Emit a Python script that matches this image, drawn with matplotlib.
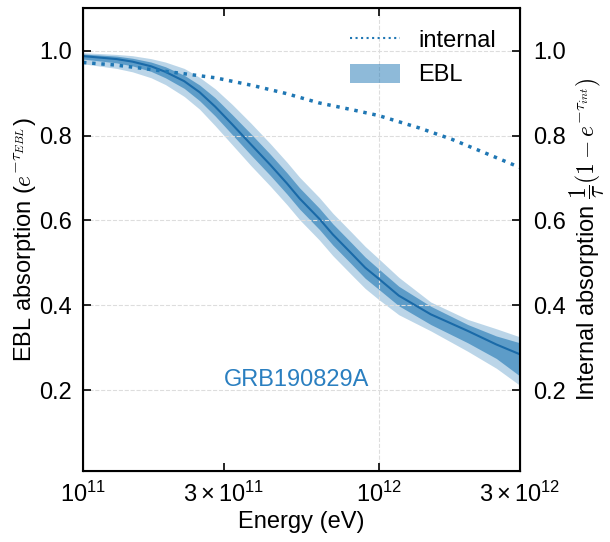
import matplotlib
matplotlib.use('Agg')
import matplotlib.pyplot as plt
from matplotlib.lines import Line2D
from matplotlib.patches import Patch

plt.rcParams['font.family'] = ['Liberation Sans', 'DejaVu Sans']
plt.rcParams['mathtext.fontset'] = 'cm'

# EBL absorption: median and 1/2 sigma bands
energy = [1.0e11, 1.3e11, 1.47e11, 1.7e11, 1.9e11, 2.2e11, 2.48e11, 2.8e11, 3.2e11,
          3.7e11, 4.3e11, 4.9e11, 5.4e11, 6.3e11, 7.0e11, 8.1e11, 9.0e11, 1.0e12,
          1.17e12, 1.5e12, 2.0e12, 2.5e12, 3.0e12]
ebl_med = [0.987, 0.980, 0.974, 0.963, 0.950, 0.928, 0.902, 0.868, 0.826, 0.779, 0.731, 0.687,
           0.652, 0.604, 0.567, 0.522, 0.489, 0.463, 0.423, 0.379, 0.340, 0.308, 0.285]
ebl_lo1 = [0.980, 0.971, 0.964, 0.951, 0.936, 0.911, 0.882, 0.846, 0.802, 0.754, 0.706, 0.662,
           0.627, 0.579, 0.542, 0.497, 0.464, 0.438, 0.399, 0.355, 0.312, 0.275, 0.234]
ebl_hi1 = [0.992, 0.987, 0.982, 0.973, 0.962, 0.942, 0.919, 0.889, 0.849, 0.804, 0.756, 0.712,
           0.677, 0.629, 0.592, 0.547, 0.514, 0.486, 0.445, 0.398, 0.355, 0.328, 0.312]
ebl_lo2 = [0.969, 0.958, 0.950, 0.936, 0.920, 0.892, 0.862, 0.823, 0.778, 0.729, 0.681, 0.637,
           0.602, 0.554, 0.517, 0.472, 0.440, 0.414, 0.378, 0.340, 0.292, 0.252, 0.212]
ebl_hi2 = [0.995, 0.991, 0.988, 0.981, 0.973, 0.958, 0.937, 0.910, 0.873, 0.829, 0.781, 0.737,
           0.702, 0.654, 0.617, 0.572, 0.539, 0.510, 0.466, 0.408, 0.367, 0.345, 0.326]

# internal absorption
e_int = [1.0e11, 1.29e11, 1.68e11, 2.17e11, 2.80e11, 3.74e11, 4.86e11, 6.27e11,
         8.1e11, 1.0e12, 1.37e12, 1.77e12, 2.29e12, 3.0e12]
int_abs = [0.972, 0.966, 0.956, 0.946, 0.936, 0.918, 0.899, 0.877,
           0.861, 0.847, 0.818, 0.791, 0.759, 0.725]

yticks = [0.2, 0.4, 0.6, 0.8, 1.0]
c = '#1f77b4'
fs = 17

fig = plt.figure(figsize=(6.1, 5.42), dpi=100)
ax = fig.add_axes([0.136, 0.131, 0.716, 0.854])

ax.fill_between(energy, ebl_lo2, ebl_hi2, color=c, alpha=0.3, lw=0)
ax.fill_between(energy, ebl_lo1, ebl_hi1, color=c, alpha=0.6, lw=0)
ax.plot(energy, ebl_med, color='#1a6aa8', lw=1.5)
ax.plot(e_int, int_abs, color=c, ls=':', lw=2.5)

ax.set_xscale('log')
ax.set_xlim(1e11, 3e12)
ax.set_ylim(0.01, 1.1)
ax.set_xticks([1e11, 1e12])
ax.set_xticklabels([r'$\mathdefault{10^{11}}$', r'$\mathdefault{10^{12}}$'])
ax.set_xticks([3e11, 3e12], minor=True)
ax.set_xticklabels([r'$\mathdefault{3\times10^{11}}$', r'$\mathdefault{3\times10^{12}}$'], minor=True)
ax.set_yticks(yticks)
ax.grid(True, which='major', ls='--', color='#dddddd', lw=0.8)
ax.tick_params(which='both', direction='in', top=True, length=6, width=1.2,
               labelsize=fs, pad=8)
ax.tick_params(axis='y', right=False)
for s in ax.spines.values():
    s.set_linewidth(1.5)

ax2 = ax.twinx()
ax2.set_ylim(0.01, 1.1)
ax2.set_yticks(yticks)
ax2.tick_params(direction='in', length=6, width=1.2, labelsize=fs, pad=10)

ax.set_xlabel('Energy (eV)', fontsize=fs, labelpad=3)
ax.set_ylabel(r'EBL absorption ($e^{-\tau_{EBL}}$)', fontsize=fs, labelpad=1)
ax2.set_ylabel(r'Internal absorption $\dfrac{1}{\tau}(1-e^{-\tau_{int}})$', fontsize=fs, labelpad=1)

ax.text(3.0e11, 0.224, 'GRB190829A', color='#2a7fc0', fontsize=fs, ha='left', va='center')

handles = [Line2D([], [], color=c, ls=':', lw=1.5),
           Patch(facecolor=c, alpha=0.5, edgecolor='none')]
ax.legend(handles, ['internal', 'EBL'], loc='upper right', frameon=False,
          fontsize=fs, handlelength=2.1, handleheight=0.85, labelspacing=0.5,
          bbox_to_anchor=(0.995, 1.0))

fig.savefig('out.png', dpi=100)
